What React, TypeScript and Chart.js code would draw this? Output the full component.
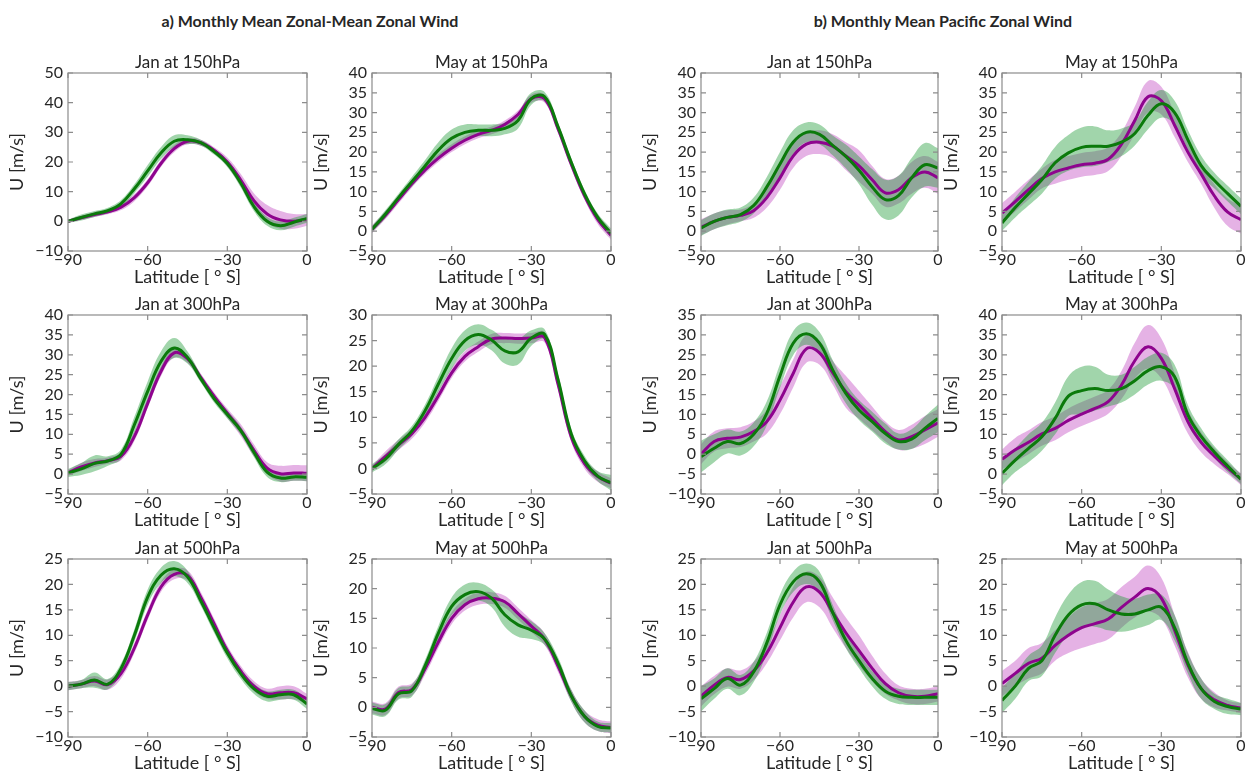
import React, { useEffect, useRef } from "react";
import { Chart, registerables } from "chart.js";
Chart.register(...registerables);

// Latitude grid (degrees, southern hemisphere)
const LAT = [-90, -85, -80, -75, -70, -65, -60, -55, -50, -45, -40, -35, -30, -25, -20, -15, -10, -5, 0];
const X_TICK_STEP = 30;

// ---- a) Zonal-mean zonal wind ----
// Jan 150 hPa
const A_JAN150_MAG = [0, 1.2, 2.3, 3.2, 4.8, 8, 13, 19.5, 24.5, 27, 26.5, 24, 20, 14, 7, 2.5, 0.5, 0, 0.5];
const A_JAN150_MAG_SD = [0.5, 0.7, 0.8, 0.8, 1, 1.2, 1.2, 1.2, 1.2, 1, 1, 1, 1.5, 2, 2.5, 3, 3, 2.5, 2];
const A_JAN150_GRN = [0, 1.3, 2.5, 3.6, 6, 11, 17, 23, 27, 27.5, 26.5, 23.5, 19.5, 13, 5, 0, -1.5, -0.3, 1];
const A_JAN150_GRN_SD = [0.5, 1, 1, 1, 1.2, 1.5, 2, 2, 2, 1.5, 1, 1, 1.2, 1.5, 1.5, 1.5, 1.5, 1.5, 1.5];
// May 150 hPa
const A_MAY150_MAG = [0.5, 4, 8, 12, 15.5, 18.5, 21, 23, 24.5, 25.5, 27, 29.5, 33.5, 33.5, 26, 17, 9, 3, -1];
const A_MAY150_MAG_SD = [1, 1, 1, 1, 1, 1, 1, 1, 1, 1, 1, 1, 1, 1, 1, 1, 1, 1.2, 1.2];
const A_MAY150_GRN = [0.5, 4.3, 8.5, 12.5, 16.5, 20.5, 23.5, 25, 25.5, 25.5, 26, 28, 33.5, 34, 26.5, 17.5, 9.5, 3.5, -0.5];
const A_MAY150_GRN_SD = [0.8, 1, 1, 1.2, 1.5, 2, 2.2, 2, 1.5, 1.5, 1.5, 2, 1.5, 1.2, 1, 1, 1, 1, 1.2];
// Jan 300 hPa
const A_JAN300_MAG = [0.3, 1.8, 2.8, 3.4, 4.5, 9.5, 17.8, 25.8, 30.5, 29, 24.3, 19.6, 15.3, 11.1, 6, 1.5, 0.1, 0.3, 0.2];
const A_JAN300_MAG_SD = [0.7, 1, 1, 0.8, 1, 1.2, 1.2, 1.2, 1.2, 1, 1, 1, 1.2, 1.5, 1.5, 1.5, 2, 2, 2];
const A_JAN300_GRN = [0.3, 1.3, 2.7, 3.3, 5, 12.4, 20.8, 28.3, 31.7, 29.3, 24, 19, 15, 11, 5.5, 0.5, -1, -0.7, -0.8];
const A_JAN300_GRN_SD = [1, 1.5, 2, 1.2, 1.2, 2, 2.5, 2.5, 2.5, 1.5, 1, 1, 1, 1, 1.2, 1.2, 1, 1, 1];
// May 300 hPa
const A_MAY300_MAG = [0, 2.3, 4.6, 6.8, 10, 14.2, 18.7, 21.9, 23.8, 25.3, 25.5, 25.4, 25.5, 25.6, 16.6, 6.2, 1, -1.6, -2.9];
const A_MAY300_MAG_SD = [0.5, 1, 1, 1, 1, 1, 1, 1, 1, 1, 1, 1, 1, 1, 1, 1, 1, 1, 1];
const A_MAY300_GRN = [0, 1.8, 4.7, 7.3, 11.3, 16.5, 21.5, 25, 26.2, 25.1, 23, 22.8, 25.5, 26.2, 17.5, 6.8, 1.5, -1.5, -2.8];
const A_MAY300_GRN_SD = [0.8, 1, 1, 1, 1.2, 1.5, 2, 2, 2, 2, 2.5, 2.5, 1.5, 1, 1, 1, 1, 1, 1.5];
// Jan 500 hPa
const A_JAN500_MAG = [0, 0.4, 1, 0.3, 2.5, 7.5, 14, 19.5, 22, 21.8, 17.5, 12.3, 7, 3, 0, -1.5, -1.3, -1.3, -2.5];
const A_JAN500_MAG_SD = [0.8, 0.8, 1, 1, 1, 1, 1, 1, 1, 1, 1, 1, 1, 1, 1, 1, 1.3, 1.3, 1];
const A_JAN500_GRN = [0, 0.4, 1.2, 0.4, 3.5, 10, 17.5, 21.8, 23.1, 21.5, 16.8, 11.5, 6.5, 2.5, -0.5, -2, -1.7, -1.7, -3.5];
const A_JAN500_GRN_SD = [0.8, 0.8, 1.5, 1, 1, 1.2, 1.5, 1.5, 1.5, 1.2, 1, 1, 1, 1, 1, 1, 1, 1, 1];
// May 500 hPa
const A_MAY500_MAG = [0, -0.3, 2.5, 3, 6.5, 11, 15, 17.3, 18.3, 18.4, 17.8, 15.8, 13.7, 11.5, 7, 2, -1.5, -3, -3.4];
const A_MAY500_MAG_SD = [1, 1, 1, 1, 1, 1, 1, 1, 1, 1, 1, 1, 1, 1, 1, 1, 1, 1, 1];
const A_MAY500_GRN = [-0.2, -0.5, 2.3, 2.8, 7, 12.5, 17, 19, 19.5, 18.4, 15.6, 13.9, 13, 11.5, 7.5, 2, -1.5, -3.2, -3.5];
const A_MAY500_GRN_SD = [1, 1, 1, 1, 1, 1.2, 1.5, 1.7, 1.5, 1.5, 2, 2, 1.5, 1, 1, 1, 1, 0.8, 0.8];

// ---- b) Pacific zonal wind ----
// Jan 150 hPa
const B_JAN150_MAG = [1, 2.5, 3.5, 4, 5.2, 8.5, 13.5, 19, 22, 22.5, 21.5, 19, 16.5, 13, 9.7, 10.5, 13.5, 15, 13.5];
const B_JAN150_MAG_SD = [2, 2, 1.8, 1.5, 1.8, 2.5, 3, 3, 3, 3, 3, 3.5, 4, 3.5, 3.5, 3.5, 4, 4, 4];
const B_JAN150_GRN = [0.8, 2.5, 3.5, 4.2, 6.5, 11.2, 17, 22.5, 25, 24.5, 21.7, 18.9, 15.4, 11.2, 8, 9, 13.5, 16.8, 16];
const B_JAN150_GRN_SD = [2, 2, 2, 1.8, 2, 2.5, 3, 3, 2.5, 2.5, 2.5, 3, 3.5, 4.5, 5, 5, 5, 5.5, 5];
// May 150 hPa
const B_MAY150_MAG = [4.6, 7.5, 10.5, 13.3, 15, 16, 16.8, 17.2, 18.2, 22, 28, 34, 33, 26.8, 20, 14.5, 8.9, 4.8, 2.9];
const B_MAY150_MAG_SD = [2.5, 2.5, 2.5, 2.5, 3, 3, 3, 3, 3, 3, 3.5, 4, 3.5, 3, 2.5, 2.5, 3, 3.5, 3.5];
const B_MAY150_GRN = [2.1, 6, 9.5, 13, 17.3, 19.8, 21.2, 21.5, 21.5, 22.5, 24.7, 29.3, 32.2, 30, 23.1, 16.6, 12.8, 9.5, 6.3];
const B_MAY150_GRN_SD = [2, 2.5, 3, 3.5, 4, 4.5, 5, 5, 4, 3.5, 3, 3.5, 3.5, 3, 2.5, 2.5, 2, 2, 2];
// Jan 300 hPa
const B_JAN300_MAG = [0, 3.2, 4, 4.3, 5.7, 8.2, 13.6, 20.3, 26.5, 25.5, 20.5, 15.7, 12.4, 9, 5.7, 3.6, 4.4, 6.1, 7.9];
const B_JAN300_MAG_SD = [2.5, 2.5, 2.5, 2.5, 2.5, 3, 3.5, 3.5, 3.5, 3, 3, 4, 3.5, 3, 2.5, 2.5, 3, 3.5, 3.5];
const B_JAN300_GRN = [-0.6, 1.5, 3.2, 2.7, 5, 10.3, 19.7, 27.9, 30.3, 27.9, 21.2, 15.3, 11.1, 8.2, 5.2, 3.2, 3.8, 6.5, 9];
const B_JAN300_GRN_SD = [4, 3.5, 3, 3, 3, 3, 3, 3, 2.8, 2.8, 2.5, 2.5, 2.5, 2.5, 2.5, 2, 2.5, 3, 3.5];
// May 300 hPa
const B_MAY300_MAG = [3.7, 6.1, 8, 10.1, 11.5, 13.5, 15.1, 16.5, 18.2, 22.4, 28.5, 32, 29.1, 21.5, 13.2, 8, 4.5, 1.5, -1.3];
const B_MAY300_MAG_SD = [2.5, 3, 3, 3, 3, 3, 3, 3, 3, 3.5, 4.5, 5.5, 5, 4, 3, 2.5, 2, 1.5, 1.5];
const B_MAY300_GRN = [0.2, 3.5, 6.5, 9.4, 14, 19.6, 21, 21.5, 21, 21.5, 23.5, 26, 27, 24.5, 14.9, 9.5, 5.5, 2, -1.3];
const B_MAY300_GRN_SD = [3, 3, 3.5, 3.5, 4, 5, 6, 5.5, 4, 3.5, 3.5, 3.5, 3.5, 3, 2.5, 2, 1.5, 1.5, 1.2];
// Jan 500 hPa
const B_JAN500_MAG = [-2, 0.2, 1.7, 1.3, 3, 6.5, 11.5, 16.5, 19.5, 18.5, 14.5, 10.5, 7, 3.5, 0.5, -1.3, -2, -2, -1.5];
const B_JAN500_MAG_SD = [2, 1.8, 1.8, 1.8, 1.8, 2, 2.5, 3, 3, 3, 3, 3, 3, 2.5, 2, 1.5, 1.5, 1.5, 1.5];
const B_JAN500_GRN = [-2.5, -0.5, 1.5, 0.2, 2.8, 8.5, 16, 20.5, 22.1, 20.5, 14.5, 9, 5, 1.5, -1, -2, -2.2, -2.2, -2.2];
const B_JAN500_GRN_SD = [2.5, 2, 2, 2, 2, 2, 2, 2, 2, 2, 1.5, 1.5, 1.5, 1.5, 1.5, 1.5, 1.5, 1.5, 1.5];
// May 500 hPa
const B_MAY500_MAG = [0.5, 2.5, 4.5, 5.5, 8, 10, 11.5, 12.3, 13.2, 15.5, 17.5, 19.2, 17.3, 11, 4.2, -0.5, -2.7, -3.8, -4.3];
const B_MAY500_MAG_SD = [2.5, 2.5, 3, 3, 3, 3.5, 4, 4, 4, 4, 4, 4.5, 4, 3, 2.5, 2, 1.5, 1, 1];
const B_MAY500_GRN = [-2.8, 0, 3.5, 5, 10, 14, 16, 16.2, 15, 14.2, 14.2, 15, 15.5, 11.5, 4.5, -0.5, -3, -4, -4.5];
const B_MAY500_GRN_SD = [2.5, 2.5, 2.5, 3, 3.5, 4, 4.5, 4.5, 4, 3.5, 3, 3, 2.5, 2.5, 2, 2, 1.5, 1.5, 1.2];

// Y-axis ranges [min, max, step] per panel
const Y_A_JAN150 = [-10, 50, 10];
const Y_A_MAY150 = [-5, 40, 5];
const Y_B_JAN150 = [-5, 40, 5];
const Y_B_MAY150 = [-5, 40, 5];
const Y_A_JAN300 = [-5, 40, 5];
const Y_A_MAY300 = [-5, 30, 5];
const Y_B_JAN300 = [-10, 35, 5];
const Y_B_MAY300 = [-5, 40, 5];
const Y_A_JAN500 = [-10, 25, 5];
const Y_A_MAY500 = [-5, 25, 5];
const Y_B_JAN500 = [-10, 25, 5];
const Y_B_MAY500 = [-10, 25, 5];

const TITLES = [
  "Jan at 150hPa", "May at 150hPa", "Jan at 150hPa", "May at 150hPa",
  "Jan at 300hPa", "May at 300hPa", "Jan at 300hPa", "May at 300hPa",
  "Jan at 500hPa", "May at 500hPa", "Jan at 500hPa", "May at 500hPa",
];
const X_LABEL = "Latitude [ \u00B0 S]";
const Y_LABEL = "U [m/s]";

// ---- layout ----
const COL_X = [68, 372, 701, 1002];
const COL_W = [239, 239, 237, 239];
const ROW_Y = [73, 315, 559];
const ROW_H = [178, 179, 178];
const ML = 66, MR = 16, MT = 30, MB = 44;

const FONT = "Lato, 'Open Sans', sans-serif";
const TEXT = "#262626";
const FRAME = "#8c8c8c";
const MAG_LINE = "#8e048e";
const GRN_LINE = "#0b7a0b";
const MAG_BAND = "rgba(175, 20, 175, 0.33)";
const GRN_BAND = "rgba(20, 150, 45, 0.40)";

type Panel = {
  title: string;
  mag: number[]; magSd: number[]; grn: number[]; grnSd: number[];
  y: number[];
  left: number; top: number; w: number; h: number;
};

const SERIES: [number[], number[], number[], number[], number[]][] = [
  [A_JAN150_MAG, A_JAN150_MAG_SD, A_JAN150_GRN, A_JAN150_GRN_SD, Y_A_JAN150],
  [A_MAY150_MAG, A_MAY150_MAG_SD, A_MAY150_GRN, A_MAY150_GRN_SD, Y_A_MAY150],
  [B_JAN150_MAG, B_JAN150_MAG_SD, B_JAN150_GRN, B_JAN150_GRN_SD, Y_B_JAN150],
  [B_MAY150_MAG, B_MAY150_MAG_SD, B_MAY150_GRN, B_MAY150_GRN_SD, Y_B_MAY150],
  [A_JAN300_MAG, A_JAN300_MAG_SD, A_JAN300_GRN, A_JAN300_GRN_SD, Y_A_JAN300],
  [A_MAY300_MAG, A_MAY300_MAG_SD, A_MAY300_GRN, A_MAY300_GRN_SD, Y_A_MAY300],
  [B_JAN300_MAG, B_JAN300_MAG_SD, B_JAN300_GRN, B_JAN300_GRN_SD, Y_B_JAN300],
  [B_MAY300_MAG, B_MAY300_MAG_SD, B_MAY300_GRN, B_MAY300_GRN_SD, Y_B_MAY300],
  [A_JAN500_MAG, A_JAN500_MAG_SD, A_JAN500_GRN, A_JAN500_GRN_SD, Y_A_JAN500],
  [A_MAY500_MAG, A_MAY500_MAG_SD, A_MAY500_GRN, A_MAY500_GRN_SD, Y_A_MAY500],
  [B_JAN500_MAG, B_JAN500_MAG_SD, B_JAN500_GRN, B_JAN500_GRN_SD, Y_B_JAN500],
  [B_MAY500_MAG, B_MAY500_MAG_SD, B_MAY500_GRN, B_MAY500_GRN_SD, Y_B_MAY500],
];

const PANELS: Panel[] = SERIES.map((s, i) => {
  const r = Math.floor(i / 4), c = i % 4;
  return {
    title: TITLES[i], mag: s[0], magSd: s[1], grn: s[2], grnSd: s[3], y: s[4],
    left: COL_X[c], top: ROW_Y[r], w: COL_W[c], h: ROW_H[r],
  };
});

const fmt = (v: number) => (v < 0 ? "\u2212" + Math.abs(v) : String(v));
const pts = (arr: number[]) => LAT.map((x, i) => ({ x, y: arr[i] }));
const ptsOff = (arr: number[], sd: number[], sign: number) => LAT.map((x, i) => ({ x, y: arr[i] + sign * sd[i] }));

function PanelChart({ p }: { p: Panel }) {
  const ref = useRef<HTMLCanvasElement | null>(null);
  useEffect(() => {
    if (!ref.current) return;
    const framePlugin = {
      id: "frame" + p.title,
      afterDraw(chart: any) {
        const { ctx, chartArea } = chart;
        const { left, right, top, bottom } = chartArea;
        const xs = chart.scales.x, ys = chart.scales.y;
        ctx.save();
        ctx.strokeStyle = FRAME;
        ctx.lineWidth = 1.2;
        ctx.strokeRect(left, top, right - left, bottom - top);
        const TL = 5;
        ctx.beginPath();
        xs.ticks.forEach((t: any) => {
          const px = xs.getPixelForValue(t.value);
          ctx.moveTo(px, bottom); ctx.lineTo(px, bottom - TL);
          ctx.moveTo(px, top); ctx.lineTo(px, top + TL);
        });
        ys.ticks.forEach((t: any) => {
          const py = ys.getPixelForValue(t.value);
          ctx.moveTo(left, py); ctx.lineTo(left + TL, py);
          ctx.moveTo(right, py); ctx.lineTo(right - TL, py);
        });
        ctx.stroke();
        ctx.fillStyle = TEXT;
        ctx.textAlign = "center";
        ctx.font = `17px ${FONT}`;
        ctx.textBaseline = "alphabetic";
        ctx.fillText(p.title, (left + right) / 2, top - 5);
        ctx.font = `18px ${FONT}`;
        ctx.fillText(X_LABEL, (left + right) / 2, bottom + 32);
        ctx.translate(left - 45, (top + bottom) / 2);
        ctx.rotate(-Math.PI / 2);
        ctx.textBaseline = "alphabetic";
        ctx.fillText(Y_LABEL, 0, 0);
        ctx.restore();
      },
    };
    const band = (data: any[], color: string, fill: any, order: number) => ({
      data, borderWidth: 0, pointRadius: 0, backgroundColor: color, borderColor: "rgba(0,0,0,0)",
      fill, order, tension: 0.4,
    });
    const chart = new Chart(ref.current, {
      type: "line",
      data: {
        datasets: [
          band(ptsOff(p.mag, p.magSd, -1), MAG_BAND, false, 4),
          band(ptsOff(p.mag, p.magSd, 1), MAG_BAND, "-1", 4),
          band(ptsOff(p.grn, p.grnSd, -1), GRN_BAND, false, 3),
          band(ptsOff(p.grn, p.grnSd, 1), GRN_BAND, "-1", 3),
          { data: pts(p.mag), borderColor: MAG_LINE, borderWidth: 3, pointRadius: 0, fill: false, order: 2, tension: 0.4 },
          { data: pts(p.grn), borderColor: GRN_LINE, borderWidth: 3, pointRadius: 0, fill: false, order: 1, tension: 0.4 },
        ] as any,
      },
      options: {
        animation: false,
        responsive: false,
        events: [],
        layout: { padding: { left: 0, right: MR, top: MT, bottom: 0 } },
        plugins: { legend: { display: false }, tooltip: { enabled: false }, title: { display: false } },
        scales: {
          x: {
            type: "linear", min: -90, max: 0,
            grid: { display: false, drawTicks: false },
            border: { display: false },
            ticks: { stepSize: X_TICK_STEP, autoSkip: false, maxRotation: 0, color: TEXT, font: { family: FONT, size: 16 }, padding: -1, callback: (v: any) => fmt(Number(v)) },
            afterFit: (s: any) => { s.height = MB; s.paddingLeft = 0; s.paddingRight = 0; },
          },
          y: {
            type: "linear", min: p.y[0], max: p.y[1],
            grid: { display: false, drawTicks: false },
            border: { display: false },
            ticks: { stepSize: p.y[2], autoSkip: false, color: TEXT, font: { family: FONT, size: 16 }, padding: 5, callback: (v: any) => fmt(Number(v)) },
            afterFit: (s: any) => { s.width = ML; s.paddingTop = 0; s.paddingBottom = 0; },
          },
        },
      } as any,
      plugins: [framePlugin],
    });
    return () => chart.destroy();
  }, [p]);
  const W = p.w + ML + MR, H = p.h + MT + MB;
  return (
    <canvas
      ref={ref}
      width={W}
      height={H}
      style={{ position: "absolute", left: p.left - ML, top: p.top - MT, width: W, height: H }}
    />
  );
}

export default function App() {
  const titleStyle: React.CSSProperties = {
    position: "absolute", top: 11, transform: "translateX(-50%)", whiteSpace: "nowrap",
    fontFamily: FONT, fontWeight: 700, fontSize: 16, color: TEXT, lineHeight: "20px",
  };
  return (
    <div style={{ position: "absolute", left: 0, top: 0, width: 1251, height: 778, background: "#fff", overflow: "hidden" }}>
      <div style={{ ...titleStyle, left: 310 }}>a) Monthly Mean Zonal-Mean Zonal Wind</div>
      <div style={{ ...titleStyle, left: 943 }}>b) Monthly Mean Pacific Zonal Wind</div>
      {PANELS.map((p, i) => <PanelChart key={i} p={p} />)}
    </div>
  );
}
